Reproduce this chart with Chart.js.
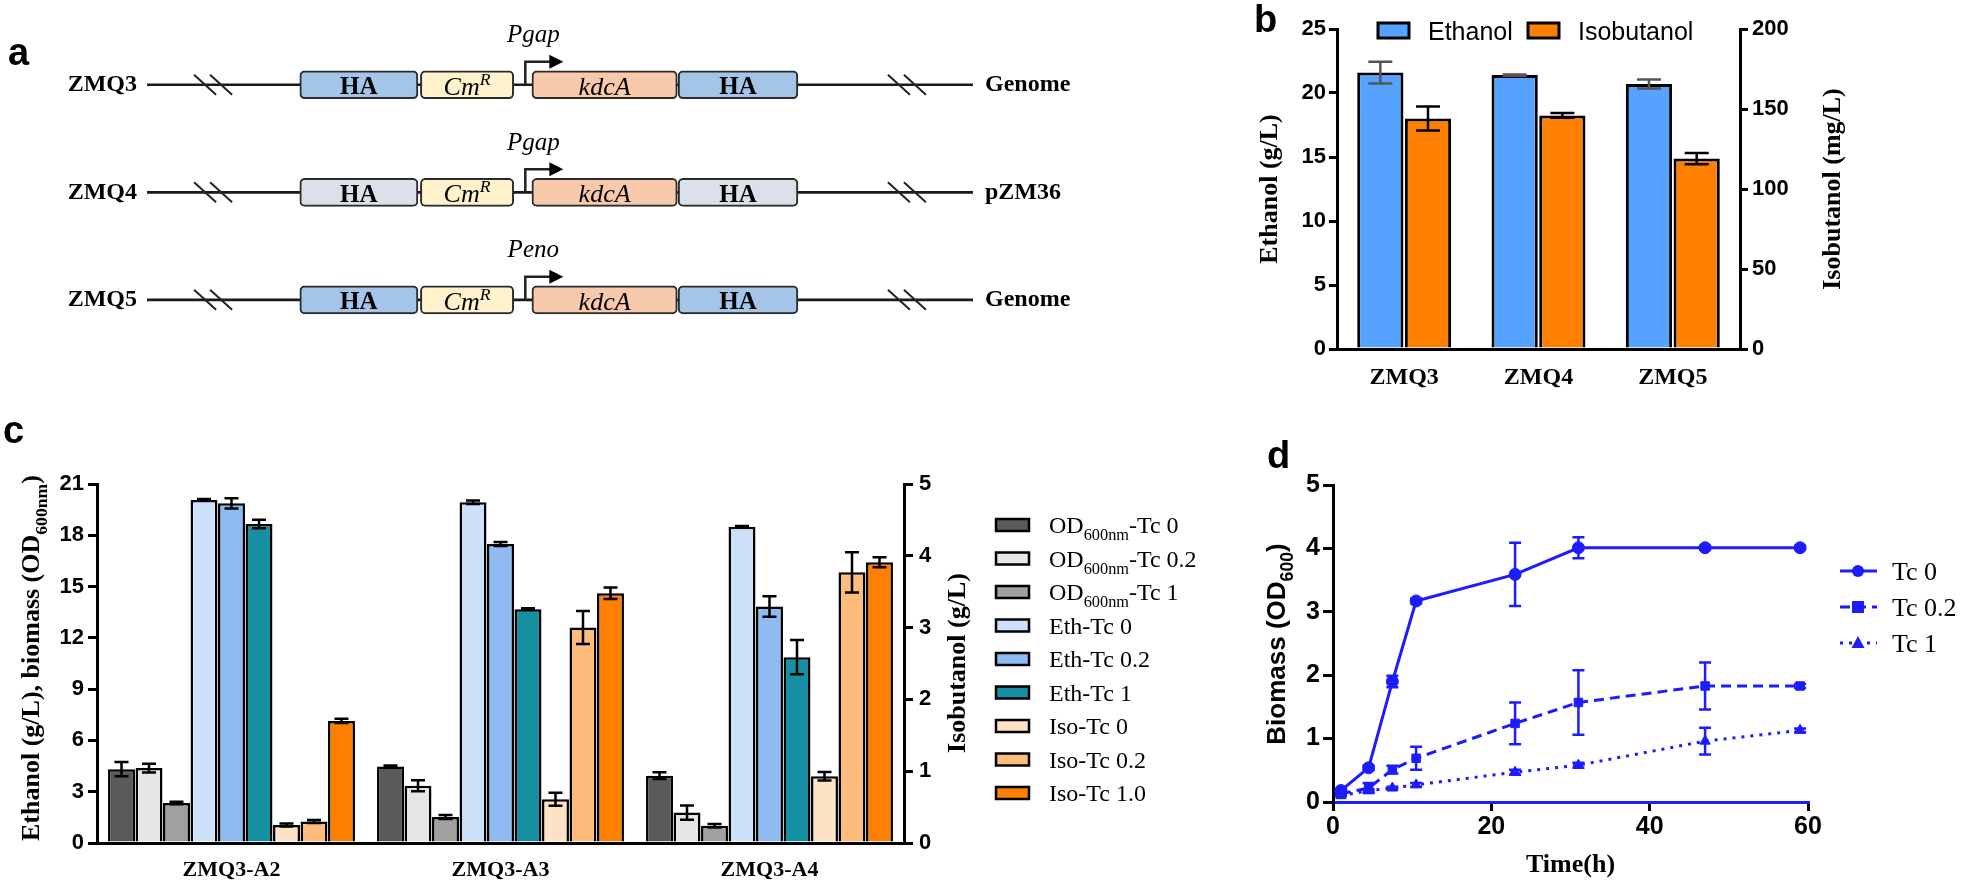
<!DOCTYPE html>
<html>
<head>
<meta charset="utf-8">
<script src="https://cdn.jsdelivr.net/npm/chart.js@4.4.1/dist/chart.umd.min.js"></script>
<style>
  html, body { margin: 0; padding: 0; background: #fff; }
  #fig { position: relative; width: 1961px; height: 883px; overflow: hidden; background: #fff; }
  canvas { position: absolute; }
</style>
</head>
<body>
<div id="fig">
  <canvas id="chart-a" width="1080" height="380" style="left:0;top:0"></canvas>
  <canvas id="chart-b" width="721" height="400" style="left:1240px;top:0"></canvas>
  <canvas id="chart-c" width="1240" height="483" style="left:0;top:400px"></canvas>
  <canvas id="chart-d" width="721" height="483" style="left:1240px;top:400px"></canvas>
</div>
<script>
const SERIF = '"Liberation Serif", "Times New Roman", serif';
const SANS = '"Liberation Sans", Arial, sans-serif';

// panel a - constructs (part spans in % of the drawn locus)
const constructs = ['ZMQ3', 'ZMQ4', 'ZMQ5'];
const hosts = ['Genome', 'pZM36', 'Genome'];
const promoters = ['Pgap', 'Pgap', 'Peno'];
const partLabels = ['HA', 'Cm^{R}', 'kdcA', 'HA'];
const partSpans = [[18.5, 32.8], [33.1, 44.4], [46.6, 64.2], [64.3, 78.8]];
const backboneSpan = [0, 100];
const breakSites = [8, 92];
const promoterSite = 45.8;

// panel b
const strainsB = ['ZMQ3', 'ZMQ4', 'ZMQ5'];
const ethanolB = [21.6, 21.4, 20.7];
const ethanolSdB = [0.85, 0.05, 0.35];
const isobutanolB = [144, 146, 119];
const isobutanolSdB = [7.5, 1.5, 3.5];
const ticksB = [0, 5, 10, 15, 20, 25];
const ticksB2 = [0, 50, 100, 150, 200];

// panel c
const strainsC = ['ZMQ3-A2', 'ZMQ3-A3', 'ZMQ3-A4'];
const seriesC = ['OD_{600nm}-Tc 0', 'OD_{600nm}-Tc 0.2', 'OD_{600nm}-Tc 1',
                 'Eth-Tc 0', 'Eth-Tc 0.2', 'Eth-Tc 1',
                 'Iso-Tc 0', 'Iso-Tc 0.2', 'Iso-Tc 1.0'];
const od0 = [4.32, 4.48, 3.94],      od0Sd = [0.42, 0.05, 0.2];
const od02 = [4.38, 3.35, 1.78],     od02Sd = [0.25, 0.32, 0.42];
const od1 = [2.34, 1.52, 1.01],      od1Sd = [0.08, 0.12, 0.1];
const eth0 = [20.07, 19.93, 18.5],   eth0Sd = [0.05, 0.1, 0.05];
const eth02 = [19.87, 17.49, 13.83], eth02Sd = [0.3, 0.12, 0.6];
const eth1 = [18.66, 13.68, 10.87],  eth1Sd = [0.25, 0.05, 1.0];
const iso0 = [0.25, 0.61, 0.93],     iso0Sd = [0.02, 0.09, 0.06];
const iso02 = [0.3, 3.0, 3.77],      iso02Sd = [0.02, 0.23, 0.28];
const iso1 = [1.7, 3.48, 3.91],      iso1Sd = [0.03, 0.08, 0.07];
const ticksC = [0, 3, 6, 9, 12, 15, 18, 21];
const ticksC2 = [0, 1, 2, 3, 4, 5];

// panel d
const timeD = [1, 4.5, 7.5, 10.5, 23, 31, 47, 59];
const tc0 = [0.18, 0.54, 1.9, 3.17, 3.59, 4.01, 4.01, 4.01];
const tc0Sd = [0.02, 0.03, 0.09, 0.04, 0.5, 0.165, 0.03, 0.03];
const tc02 = [0.13, 0.22, 0.51, 0.69, 1.24, 1.57, 1.83, 1.83];
const tc02Sd = [0.02, 0.08, 0.06, 0.18, 0.33, 0.51, 0.37, 0.03];
const tc1 = [0.1, 0.18, 0.22, 0.27, 0.47, 0.58, 0.96, 1.13];
const tc1Sd = [0.01, 0.02, 0.02, 0.03, 0.04, 0.04, 0.21, 0.03];
const ticksDx = [0, 20, 40, 60];
const ticksDy = [0, 1, 2, 3, 4, 5];

// text with _{sub} and ^{sup}
function richParts(text) {
  const out = [];
  const re = /([_^])\{([^}]*)\}/g;
  let last = 0, m;
  while ((m = re.exec(text))) {
    if (m.index > last) out.push({ t: text.slice(last, m.index), k: '' });
    out.push({ t: m[2], k: m[1] });
    last = re.lastIndex;
  }
  if (last < text.length) out.push({ t: text.slice(last), k: '' });
  return out;
}

function drawRich(ctx, text, x, y, f) {
  const parts = richParts(text);
  const fontFor = k => `${f.style || 'normal'} ${f.weight || 'normal'} ${k ? f.size * 0.68 : f.size}px ${f.family}`;
  let total = 0;
  parts.forEach(p => { ctx.font = fontFor(p.k); p.w = ctx.measureText(p.t).width; total += p.w; });
  let cx = f.align === 'center' ? x - total / 2 : f.align === 'right' ? x - total : x;
  ctx.save();
  ctx.fillStyle = f.color || '#000';
  ctx.textAlign = 'left';
  ctx.textBaseline = 'alphabetic';
  const base = y + f.size * 0.34;
  parts.forEach(p => {
    ctx.font = fontFor(p.k);
    const dy = p.k === '_' ? f.size * 0.3 : p.k === '^' ? -f.size * 0.38 : 0;
    ctx.fillText(p.t, cx, base + dy);
    cx += p.w;
  });
  ctx.restore();
}

function drawRichV(ctx, text, x, y, f) {
  ctx.save();
  ctx.translate(x, y);
  ctx.rotate(-Math.PI / 2);
  drawRich(ctx, text, 0, 0, Object.assign({}, f, { align: 'center' }));
  ctx.restore();
}

function panelLetter(ctx, letter, x, y) {
  ctx.save();
  ctx.font = `bold 38px ${SANS}`;
  ctx.fillStyle = '#000';
  ctx.textBaseline = 'alphabetic';
  ctx.fillText(letter, x, y);
  ctx.restore();
}

const errorBars = {
  id: 'errorBars',
  afterDatasetsDraw(chart, args, opts) {
    const ctx = chart.ctx;
    chart.data.datasets.forEach((ds, i) => {
      if (!ds.errors) return;
      const meta = chart.getDatasetMeta(i);
      const ys = chart.scales[meta.yAxisID];
      ctx.save();
      ctx.strokeStyle = ds.errorColor || '#000';
      ctx.lineWidth = opts.width;
      meta.data.forEach((el, j) => {
        const v = ds.data[j];
        const val = typeof v === 'object' ? v.y : v;
        const t = ys.getPixelForValue(val + ds.errors[j]);
        const b = ys.getPixelForValue(val - ds.errors[j]);
        const w = opts.cap;
        ctx.beginPath();
        ctx.moveTo(el.x, t); ctx.lineTo(el.x, b);
        ctx.moveTo(el.x - w, t); ctx.lineTo(el.x + w, t);
        ctx.moveTo(el.x - w, b); ctx.lineTo(el.x + w, b);
        ctx.stroke();
      });
      ctx.restore();
    });
  }
};

const tickFont = size => ({ family: SANS, size: size, weight: 'bold' });
const axisGrid = len => ({ display: true, drawOnChartArea: false, drawTicks: true, tickLength: len, color: '#000', lineWidth: 3 });
const fixedTicks = arr => s => { s.ticks = arr.map(v => ({ value: v })); };

// ---------- a ----------
const partColors = [['#a4c5e8', '#dbe1ea', '#a4c5e8'], '#fff2cc', '#f8c9ab', ['#a4c5e8', '#dbe1ea', '#a4c5e8']];
const partFonts = [
  { size: 25, family: SERIF, weight: 'bold' },
  { size: 26, family: SERIF, style: 'italic' },
  { size: 26, family: SERIF, style: 'italic' },
  { size: 25, family: SERIF, weight: 'bold' }
];

const constructDecor = {
  id: 'constructDecor',
  afterDatasetsDraw(chart) {
    const { ctx, scales: { x, y } } = chart;
    partLabels.forEach((lab, k) => {
      chart.getDatasetMeta(k).data.forEach(el => {
        const p = el.getProps(['x', 'y', 'base']);
        drawRich(ctx, lab, (p.x + p.base) / 2, p.y + 1, Object.assign({ align: 'center' }, partFonts[k]));
      });
    });
    constructs.forEach((name, row) => {
      const cy = y.getPixelForValue(row);
      ctx.save();
      ctx.strokeStyle = '#222';
      ctx.fillStyle = '#000';
      ctx.lineWidth = 2;
      breakSites.forEach(s => {
        const px = x.getPixelForValue(s);
        [-8, 8].forEach(dx => {
          ctx.beginPath();
          ctx.moveTo(px + dx - 11, cy - 10);
          ctx.lineTo(px + dx + 11, cy + 10);
          ctx.stroke();
        });
      });
      const px = x.getPixelForValue(promoterSite);
      ctx.lineWidth = 2.5;
      ctx.beginPath();
      ctx.moveTo(px, cy);
      ctx.lineTo(px, cy - 23);
      ctx.lineTo(px + 26, cy - 23);
      ctx.stroke();
      ctx.beginPath();
      ctx.moveTo(px + 38, cy - 23);
      ctx.lineTo(px + 24, cy - 30);
      ctx.lineTo(px + 24, cy - 16);
      ctx.closePath();
      ctx.fill();
      ctx.restore();
      drawRich(ctx, promoters[row], px + 8, cy - 51, { size: 25, family: SERIF, style: 'italic', align: 'center' });
    });
  },
  afterDraw(chart) { panelLetter(chart.ctx, 'a', 8, 65); }
};

new Chart(document.getElementById('chart-a'), {
  type: 'bar',
  data: {
    labels: constructs,
    datasets: partSpans.map((span, k) => ({
      label: partLabels[k],
      data: constructs.map(() => span),
      backgroundColor: partColors[k],
      borderColor: '#2b2b2b',
      borderWidth: 2,
      borderRadius: 5,
      borderSkipped: false,
      barThickness: 28,
      grouped: false
    })).concat([{
      label: 'locus',
      data: constructs.map(() => backboneSpan),
      backgroundColor: '#1a1a1a',
      borderWidth: 0,
      barThickness: 2,
      grouped: false
    }])
  },
  options: {
    indexAxis: 'y',
    responsive: false,
    animation: false,
    devicePixelRatio: 1,
    layout: { padding: { top: 31, bottom: 19, left: 0, right: 0 } },
    plugins: { legend: { display: false }, tooltip: { enabled: false } },
    scales: {
      x: { display: false, min: 0, max: 100 },
      y: {
        position: 'left',
        grid: { display: false, drawTicks: false },
        border: { display: false },
        ticks: { color: '#000', padding: 10, font: { family: SERIF, size: 24, weight: 'bold' } },
        afterFit: s => { s.width = 147; }
      },
      y2: {
        type: 'category',
        labels: hosts,
        offset: true,
        position: 'right',
        grid: { display: false, drawTicks: false },
        border: { display: false },
        ticks: { color: '#000', padding: 12, font: { family: SERIF, size: 24, weight: 'bold' } },
        afterFit: s => { s.width = 107; }
      }
    }
  },
  plugins: [constructDecor]
});

// ---------- b ----------
new Chart(document.getElementById('chart-b'), {
  type: 'bar',
  data: {
    labels: strainsB,
    datasets: [
      { label: 'Ethanol', data: ethanolB, errors: ethanolSdB, errorColor: '#555', yAxisID: 'y',
        backgroundColor: '#55a3ff', borderColor: '#000', borderWidth: 3 },
      { label: 'Isobutanol', data: isobutanolB, errors: isobutanolSdB, errorColor: '#000', yAxisID: 'y1',
        backgroundColor: '#ff8000', borderColor: '#000', borderWidth: 3 }
    ]
  },
  options: {
    responsive: false,
    animation: false,
    devicePixelRatio: 1,
    datasets: { bar: { categoryPercentage: 0.71, barPercentage: 0.97 } },
    layout: { padding: { top: 29, bottom: 0, left: 0, right: 0 } },
    plugins: { legend: { display: false }, tooltip: { enabled: false }, errorBars: { cap: 12, width: 2.5 } },
    scales: {
      x: {
        grid: { display: false, drawTicks: false },
        border: { display: true, color: '#000', width: 3 },
        ticks: { color: '#000', padding: 14, font: { family: SERIF, size: 24, weight: 'bold' } },
        afterFit: s => { s.height = 51; }
      },
      y: {
        position: 'left', min: 0, max: 25,
        afterBuildTicks: fixedTicks(ticksB),
        grid: axisGrid(8),
        border: { display: true, color: '#000', width: 3 },
        ticks: { color: '#000', padding: 3, font: tickFont(22) },
        title: { display: true, text: 'Ethanol (g/L)', color: '#000', padding: { top: 15, bottom: 0 },
                 font: { family: SERIF, size: 26, weight: 'bold' } },
        afterFit: s => { s.width = 97; }
      },
      y1: {
        position: 'right', min: 0, max: 200,
        afterBuildTicks: fixedTicks(ticksB2),
        grid: axisGrid(8),
        border: { display: true, color: '#000', width: 3 },
        ticks: { color: '#000', padding: 4, font: tickFont(22) },
        afterFit: s => { s.width = 221; }
      }
    }
  },
  plugins: [errorBars, {
    id: 'bExtras',
    afterDraw(chart) {
      const ctx = chart.ctx;
      const boxX = [138, 288];
      chart.data.datasets.forEach((ds, i) => {
        ctx.save();
        ctx.fillStyle = ds.backgroundColor;
        ctx.fillRect(boxX[i], 23, 31, 15);
        ctx.lineWidth = 3;
        ctx.strokeStyle = '#000';
        ctx.strokeRect(boxX[i], 23, 31, 15);
        ctx.restore();
        drawRich(ctx, ds.label, boxX[i] + 50, 31, { size: 25, family: SANS });
      });
      drawRichV(ctx, 'Isobutanol (mg/L)', 591, 189, { size: 26, family: SERIF, weight: 'bold' });
      panelLetter(ctx, 'b', 14, 32);
    }
  }]
});

// ---------- c ----------
const colorsC = ['#5a5a5a', '#e6e6e6', '#a0a0a0', '#cde0fa', '#8dbbf2', '#168fa3', '#fde2c5', '#fdbc7c', '#ff8000'];
const valuesC = [od0, od02, od1, eth0, eth02, eth1, iso0, iso02, iso1];
const errorsC = [od0Sd, od02Sd, od1Sd, eth0Sd, eth02Sd, eth1Sd, iso0Sd, iso02Sd, iso1Sd];

new Chart(document.getElementById('chart-c'), {
  type: 'bar',
  data: {
    labels: strainsC,
    datasets: seriesC.map((name, i) => ({
      label: name,
      data: valuesC[i],
      errors: errorsC[i],
      yAxisID: i < 6 ? 'y' : 'y1',
      backgroundColor: colorsC[i],
      borderColor: '#000',
      borderWidth: 2.5
    }))
  },
  options: {
    responsive: false,
    animation: false,
    devicePixelRatio: 1,
    datasets: { bar: { categoryPercentage: 0.92, barPercentage: 0.98 } },
    layout: { padding: { top: 84, bottom: 0, left: 0, right: 0 } },
    plugins: { legend: { display: false }, tooltip: { enabled: false }, errorBars: { cap: 7, width: 2.5 } },
    scales: {
      x: {
        grid: { display: false, drawTicks: false },
        border: { display: true, color: '#000', width: 3 },
        ticks: { color: '#000', padding: 14, font: { family: SERIF, size: 22, weight: 'bold' } },
        afterFit: s => { s.height = 40; }
      },
      y: {
        position: 'left', min: 0, max: 21,
        afterBuildTicks: fixedTicks(ticksC),
        grid: axisGrid(9),
        border: { display: true, color: '#000', width: 3 },
        ticks: { color: '#000', padding: 4, font: tickFont(22) },
        afterFit: s => { s.width = 97; }
      },
      y1: {
        position: 'right', min: 0, max: 5,
        afterBuildTicks: fixedTicks(ticksC2),
        grid: axisGrid(9),
        border: { display: true, color: '#000', width: 3 },
        ticks: { color: '#000', padding: 6, font: tickFont(22) },
        afterFit: s => { s.width = 336; }
      }
    }
  },
  plugins: [errorBars, {
    id: 'cExtras',
    afterDraw(chart) {
      const ctx = chart.ctx;
      chart.data.datasets.forEach((ds, i) => {
        const cy = 125 + i * 33.5;
        ctx.save();
        ctx.fillStyle = ds.backgroundColor;
        ctx.fillRect(996, cy - 6, 33, 12);
        ctx.lineWidth = 2.5;
        ctx.strokeStyle = '#000';
        ctx.strokeRect(996, cy - 6, 33, 12);
        ctx.restore();
        drawRich(ctx, ds.label, 1049, cy, { size: 24, family: SERIF });
      });
      drawRichV(ctx, 'Ethanol (g/L), biomass (OD_{600nm})', 30, 258, { size: 26, family: SERIF, weight: 'bold' });
      drawRichV(ctx, 'Isobutanol (g/L)', 956, 263, { size: 26, family: SERIF, weight: 'bold' });
      panelLetter(ctx, 'c', 3, 43);
    }
  }]
});

// ---------- d ----------
const blue = '#1c1cff';
const seriesD = ['Tc 0', 'Tc 0.2', 'Tc 1'];
const valuesD = [tc0, tc02, tc1];
const errorsD = [tc0Sd, tc02Sd, tc1Sd];
const markersD = ['circle', 'rect', 'triangle'];
const dashesD = [[], [10, 6], [3, 6]];

new Chart(document.getElementById('chart-d'), {
  type: 'line',
  data: {
    datasets: seriesD.map((name, i) => ({
      label: name,
      data: timeD.map((t, j) => ({ x: t, y: valuesD[i][j] })),
      errors: errorsD[i],
      errorColor: blue,
      borderColor: blue,
      backgroundColor: blue,
      borderWidth: 3,
      borderDash: dashesD[i],
      pointStyle: markersD[i],
      pointRadius: 6,
      pointBorderWidth: 1,
      tension: 0
    }))
  },
  options: {
    responsive: false,
    animation: false,
    devicePixelRatio: 1,
    layout: { padding: { top: 85, bottom: 0, left: 0, right: 153 } },
    plugins: { legend: { display: false }, tooltip: { enabled: false }, errorBars: { cap: 6, width: 2.5 } },
    scales: {
      x: {
        type: 'linear', min: 0, max: 60,
        afterBuildTicks: fixedTicks(ticksDx),
        grid: axisGrid(9),
        border: { display: true, color: blue, width: 3 },
        ticks: { color: '#000', padding: 1, font: tickFont(25) },
        title: { display: true, text: 'Time(h)', color: '#000', padding: { top: 0, bottom: 2 },
                 font: { family: SERIF, size: 26, weight: 'bold' } },
        afterFit: s => { s.height = 81; }
      },
      y: {
        min: 0, max: 5,
        afterBuildTicks: fixedTicks(ticksDy),
        grid: axisGrid(10),
        border: { display: true, color: '#000', width: 3 },
        ticks: { color: '#000', padding: 3, font: tickFont(25) },
        afterFit: s => { s.width = 93; }
      }
    }
  },
  plugins: [errorBars, {
    id: 'dExtras',
    afterDraw(chart) {
      const ctx = chart.ctx;
      chart.data.datasets.forEach((ds, i) => {
        const cy = 171 + i * 36;
        ctx.save();
        ctx.strokeStyle = blue;
        ctx.fillStyle = blue;
        ctx.lineWidth = 3;
        ctx.setLineDash(ds.borderDash);
        ctx.beginPath();
        ctx.moveTo(600, cy);
        ctx.lineTo(637, cy);
        ctx.stroke();
        ctx.setLineDash([]);
        ctx.beginPath();
        if (ds.pointStyle === 'circle') ctx.arc(618, cy, 6, 0, Math.PI * 2);
        else if (ds.pointStyle === 'rect') ctx.rect(612, cy - 6, 12, 12);
        else { ctx.moveTo(618, cy - 7); ctx.lineTo(624.5, cy + 5); ctx.lineTo(611.5, cy + 5); ctx.closePath(); }
        ctx.fill();
        ctx.restore();
        drawRich(ctx, ds.label, 652, cy, { size: 26, family: SERIF });
      });
      drawRichV(ctx, 'Biomass (OD_{600})', 36, 244, { size: 26, family: SANS, weight: 'bold' });
      panelLetter(ctx, 'd', 27, 68);
    }
  }]
});
</script>
</body>
</html>
